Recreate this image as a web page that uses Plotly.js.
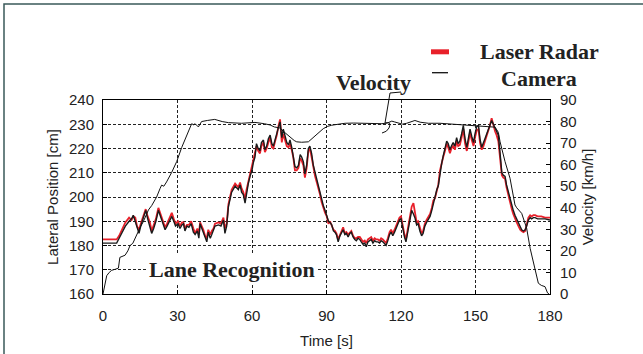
<!DOCTYPE html>
<html>
<head>
<meta charset="utf-8">
<script src="https://cdn.plot.ly/plotly-3.0.1.min.js"></script>
<style>html,body{margin:0;padding:0;background:#fff;}#chart{width:643px;height:354px;}</style>
</head>
<body>
<div id="chart"></div>
<script>
// Time [s] for lateral position samples
const timeLat = [0,2,4,5.5,6.5,8,9,10.5,11.5,12.2,13,13.7,14.5,15.2,16.2,17.2,18,18.9,19.6,20.4,21.3,22.3,23.2,24.2,25,25.8,26.6,27.7,28.5,29.2,30.2,31,31.8,32.4,33,33.8,34.6,35.5,36.4,37.1,38,38.6,39.1,39.8,40.4,41.1,41.8,42.4,43.2,43.8,44.5,45.1,46.5,47.5,48.5,49.1,49.8,50.5,51.8,53.2,54.5,55.2,55.8,56.5,57.2,57.8,58.5,59.2,60,60.5,61.2,61.8,62.5,63.2,63.8,64.6,65.2,65.9,66.6,67.3,68,68.6,69.3,70,70.6,71.3,72,72.6,73.3,74,74.7,75.3,76,76.6,77.3,78,78.7,79.4,80,80.7,81.3,82,82.7,83.3,84,84.7,85.4,86.1,86.8,87.4,88,88.7,89.4,90.1,90.8,91.4,92.1,92.8,93.4,94,94.7,95.4,96,96.7,97.4,98,98.7,99.4,100,100.7,101.4,102,102.7,103.4,104,104.7,105.4,106,106.7,107.4,108,108.7,109.4,110,110.7,111.4,112,112.7,113.4,114,114.7,115.4,116,116.7,117.4,118,118.7,119.4,120,120.7,121.4,122,122.6,123.3,124.3,125,125.6,126.3,126.9,127.6,128.3,128.9,129.6,130.3,131,131.7,132.4,133,133.7,134.4,135,135.7,136.4,137,137.7,138.4,139,139.7,140.3,141,141.7,142.4,143,143.7,144.4,145.1,145.8,146.5,147.1,147.8,148.5,149.2,149.8,150.5,151.2,151.8,152.5,153.2,153.8,154.5,155.2,155.8,156.5,157.2,157.9,158.5,159.2,159.9,160.6,161.2,161.9,162.5,163.2,163.9,164.6,165.2,165.9,166.6,167.3,168,168.6,169.3,170,170.6,171.3,172,172.6,173.3,174,175,176.5,178,180];

// Lateral position [cm] – camera (black)
const cameraLat = [181,181,181,181,183,186,188,190,191,192.5,190,187,185,188,191,194.5,191,188,185,187,190,194.5,192,189,186.5,188,190,192,190,188,189,187,188.5,189,186,188,187.5,189,185.5,184.5,186,183,189,187,185.5,183,181.5,185.5,183,184.5,186,188,188.5,188,190.5,185,188,196,202,204.5,203,205,202,201,197.5,202,205.5,208.5,211,214,216.5,222,220,219,222.5,223.5,219.5,221,224,225.5,222,221,224,226.5,228.5,231,224.5,228,225,222.5,221.5,223.5,220.5,217.5,212.5,212,213,217.5,216.5,214.5,209.5,213,220,221,218,213,210,207.5,205,202,199,196.5,194.5,192.5,190,189.5,188.5,186,185.5,184.5,181.5,184,185,186.5,184.5,185,183.5,185,185.5,183.5,182.5,182,183,182.5,181.5,180.5,181,179.5,181.5,182,182.5,181,182,181.5,181.5,181,182,181.5,180.5,180,182,184.5,185.5,184,185.5,187,188.5,190.5,191,187,183.5,181.5,185,190,194.5,193,191.5,188.5,189,186,184,185,188,189.5,190.5,192,194.5,197,200.5,203,204.5,210.5,214,217,220,223,222,219.5,221,222.5,221,224.5,222,223,226,229.5,224,220.5,224,228,225,222.5,226,229,229.5,224,220.5,222,224,226,228,230,231.5,230,228.5,227,225.5,218,210,209,208.5,205,202,199,196.5,194.5,192.5,191,189.5,187.5,186.5,186,186.5,188,190.5,191.5,191,191.5,191.5,191,191,191,190.5];

// Lateral position [cm] – laser radar (red)
const laserLat = [182.5,182.5,182.5,182.5,184,187.5,189.5,191.5,190.5,192,191.5,188,186.5,189,192,195,192,189.5,186,188,191,195.5,193,190,187.5,189,191,193.5,191,189,190,188,189.5,189.5,187,188.5,188.5,190,187,185,187,184.5,189.5,188,186.5,184,183,186.5,184.5,186,187,189,189.5,189,191.5,187,189,197,203,205.5,204,206,203.5,202,199,203,206,209.5,212,215,217.5,221,219,218,221,222.5,218.5,220,222.5,224.5,220.5,220,223,225.5,229,232,222.5,226,223.5,221,220.5,222,219.5,216.5,211,211,212,216,215,213,208,212,219,220,216.5,212,208.5,206,203.5,201,198,195.5,193.5,192,189,190,188,186.5,186,185,182.5,184.5,186,187.5,185,185.5,184.5,185.5,186,184,183,183,183.5,183.5,182.5,181.5,182,181,182.5,183,183.5,182,183,182.5,182.5,182,183,182.5,181.5,181,183,185.5,186.5,185,186.5,188,189.5,191.5,192,188,184.5,182.5,186,191,196,197.5,194,189.5,190,187,185,186,189,190.5,191.5,193,195.5,198.5,199.5,202,205,211,214.5,216.5,219,222,220.5,218,220,221,219.5,223,221,221.5,224.5,228,222,219,222.5,226.5,223.5,221,224.5,227.5,228,222.5,219.5,221,223,225,227.5,229.5,232.5,229,227,225.5,223,216,209,208,207.5,204,200.5,197.5,195,193,191,189.5,188,186.5,186,185.5,186,188.5,191.5,192.5,192,192.5,192.5,192,192,191.5,191.5];

// Velocity [km/h]
const timeVel = [0,0.8,1.5,2.5,3.5,5,6.2,6.8,8.9,10,10.9,12,13.5,15,16.2,17.5,18.3,19.6,21.6,23,23.6,24.5,25.6,27.7,29.7,31.7,33.5,35,35.7,36.5,37.1,38.4,39.7,42,45,48,50.5,55.8,61.2,65,67.3,69,71.3,72.6,74,75.3,77,78,80,82.7,84.5,86.1,88.7,90.5,92.1,95,97.5,101,105.5,109,112.3,114.5,116.3,117.5,119,120.5,122.3,124,125.6,127.7,131,135.7,140,143.7,147,151.8,155,157.9,159.2,159.9,161.9,163.9,165.9,166.6,168.6,170.6,172,174,175.3,176.5,178,179,179.6];
const velocity = [0,4,8.5,10,11,11.5,12,17,18,20,22.5,23.5,27.5,31,33.5,36.5,39,41,45,49,50.5,50,52,56.5,61.5,68,73,77.5,79,78.5,79,77.5,80,80.5,81,80,79.5,79.2,79.6,79,78.4,77.5,77,75.5,74,72.8,71.2,70.6,70.4,70.6,72.5,74.4,76.7,77.8,78.3,78.8,79.2,79.3,79.2,79.3,79,79.3,80.2,79.8,79.2,78.8,79.2,80,80.5,79.7,79.2,79.2,78.9,78.7,78.4,78,77.8,77.4,75,70.6,61.4,53.7,41.3,40,37.4,30.5,21.2,12,5,4,3.4,0.5,0];

const xTicks = [0,30,60,90,120,150,180];
const seriesNames = ['Laser Radar','Camera','Velocity'];

const serif = 'Liberation Serif, Times New Roman, serif';
const sans = 'Liberation Sans, Arial, sans-serif';

const traces = [
  {x: timeLat, y: laserLat, name: seriesNames[0], type: 'scatter', mode: 'lines',
   line: {color: '#e8202a', width: 1.8}, yaxis: 'y', showlegend: false},
  {x: timeLat, y: cameraLat, name: seriesNames[1], type: 'scatter', mode: 'lines',
   line: {color: '#1a1a1a', width: 1.4}, yaxis: 'y', showlegend: false},
  {x: timeVel, y: velocity, name: seriesNames[2], type: 'scatter', mode: 'lines',
   line: {color: '#111', width: 1}, yaxis: 'y2', showlegend: false}
];

const px = v => (v - 103) / 447;
const py = v => (294 - v) / 194;

const ann = (text, x, y, extra) => Object.assign({
  text: '<b>' + text + '</b>', xref: 'paper', yref: 'paper', x: px(x), y: py(y),
  xanchor: 'center', yanchor: 'middle', showarrow: false,
  font: {family: serif, size: 22, color: '#222'}
}, extra || {});

const layout = {
  width: 643, height: 354,
  margin: {l: 103, r: 93, t: 100, b: 60},
  paper_bgcolor: '#fff', plot_bgcolor: '#fff',
  font: {family: sans, size: 15, color: '#222'},
  xaxis: {
    range: [0, 180], tickvals: xTicks, ticktext: xTicks.map(String),
    showgrid: true, gridcolor: '#222', griddash: '3px,2px', gridwidth: 1,
    zeroline: false, showline: true, linecolor: '#000', linewidth: 1, mirror: true,
    ticks: 'inside', ticklen: 4, tickcolor: '#000', ticklabelstandoff: 8,
    title: {text: 'Time [s]', font: {family: sans, size: 15, color: '#222'}, standoff: 12},
    tickfont: {family: sans, size: 15, color: '#222'}
  },
  yaxis: {
    range: [160, 240], dtick: 10,
    showgrid: true, gridcolor: '#222', griddash: '3px,2px', gridwidth: 1,
    zeroline: false, showline: true, linecolor: '#000', linewidth: 1, mirror: true,
    ticks: 'inside', ticklen: 4, tickcolor: '#000', ticklabelstandoff: 5,
    title: {text: 'Lateral Position [cm]', font: {family: sans, size: 15, color: '#222'}, standoff: 6},
    tickfont: {family: sans, size: 15, color: '#222'}
  },
  yaxis2: {
    range: [0, 90], dtick: 10, overlaying: 'y', side: 'right',
    showgrid: false, zeroline: false, showline: false,
    ticks: 'inside', ticklen: 4, tickcolor: '#000', ticklabelstandoff: 9,
    title: {text: 'Velocity [km/h]', font: {family: sans, size: 15, color: '#222'}, standoff: 6},
    tickfont: {family: sans, size: 15, color: '#222'}
  },
  shapes: [
    {type: 'rect', xref: 'paper', yref: 'paper', x0: px(4), x1: px(700), y0: py(420), y1: py(4),
     line: {color: '#3a5a5a', width: 1.5}, fillcolor: 'rgba(0,0,0,0)', layer: 'below'},
    {type: 'line', xref: 'paper', yref: 'paper', x0: px(431), x1: px(449), y0: py(51.8), y1: py(51.8),
     line: {color: '#e8202a', width: 5}},
    {type: 'line', xref: 'paper', yref: 'paper', x0: px(432), x1: px(448), y0: py(72.7), y1: py(72.7),
     line: {color: '#111', width: 1.3}},
    {type: 'path', xref: 'paper', yref: 'paper',
     path: 'M ' + px(401) + ',' + py(92) + ' L ' + px(390) + ',' + py(93) + ' L ' + px(385) + ',' + py(123) +
           ' Q ' + px(392) + ',' + py(121) + ' ' + px(389) + ',' + py(128) +
           ' Q ' + px(387) + ',' + py(132) + ' ' + px(382) + ',' + py(133),
     line: {color: '#111', width: 1}}
  ],
  annotations: [
    ann('Velocity', 373.5, 82),
    ann('Lane Recognition', 231.5, 269, {bgcolor: '#fff', borderpad: 2}),
    ann('Laser Radar', 539.5, 51.5),
    ann('Camera', 539, 78)
  ]
};

Plotly.newPlot('chart', traces, layout, {displayModeBar: false, staticPlot: true});
</script>
</body>
</html>
